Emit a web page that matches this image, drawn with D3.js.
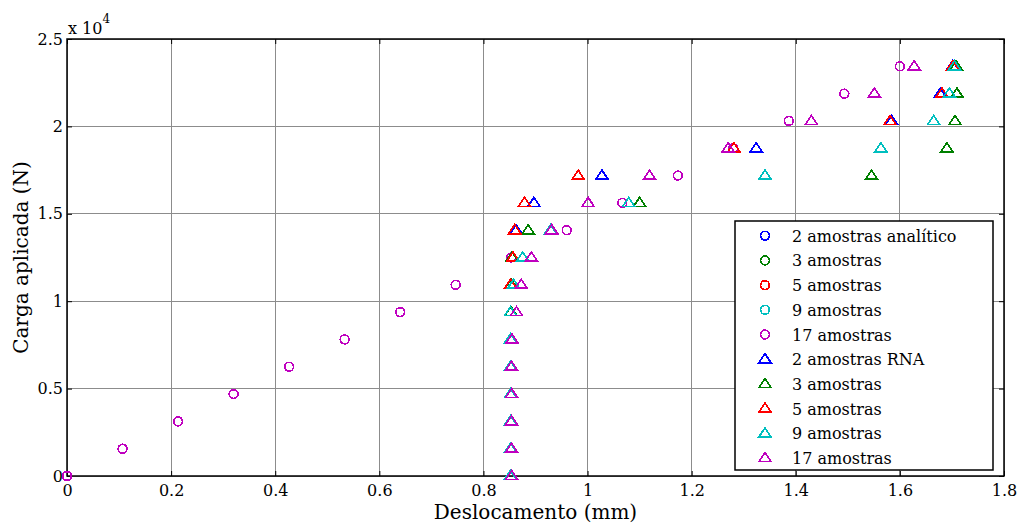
<!DOCTYPE html>
<html>
<head>
<meta charset="utf-8">
<script src="https://cdn.jsdelivr.net/npm/d3@7"></script>
<style>
  html, body { margin: 0; padding: 0; background: #fff; }
  svg { display: block; }
  text { font-family: "DejaVu Serif", "Liberation Serif", serif; fill: #000; }
</style>
</head>
<body>
<svg id="chart" width="1017" height="525"></svg>
<script>
// Load levels (N), one per loading step
const cargas = [0, 1562.5, 3125, 4687.5, 6250, 7812.5, 9375, 10937.5, 12500,
                14062.5, 15625, 17187.5, 18750, 20312.5, 21875, 23437.5];

// Analytical displacement (mm) at each load level
const deslocAnalitico = [0, 0.1067, 0.2133, 0.3200, 0.4267, 0.5333, 0.6400, 0.7467,
                         0.8533, 0.9600, 1.0667, 1.1733, 1.2800, 1.3867, 1.4933, 1.6000];

// Network (RNA) displacement predictions (mm) at each load level
const rna2  = [0.853, 0.853, 0.853, 0.853, 0.853, 0.853, 0.853, 0.853, 0.855,
               0.863, 0.897, 1.0275, 1.324, 1.584, 1.6775, 1.701];
const rna3  = [0.853, 0.853, 0.853, 0.853, 0.853, 0.853, 0.853, 0.853, 0.855,
               0.886, 1.100, 1.5455, 1.690, 1.706, 1.7096, 1.708];
const rna5  = [0.852, 0.852, 0.852, 0.852, 0.852, 0.852, 0.852, 0.852, 0.857,
               0.860, 0.879, 0.982, 1.281, 1.581, 1.681, 1.702];
const rna9  = [0.852, 0.852, 0.852, 0.852, 0.852, 0.852, 0.852, 0.858, 0.8756,
               0.929, 1.079, 1.341, 1.5635, 1.665, 1.695, 1.705];
const rna17 = [0.854, 0.854, 0.854, 0.854, 0.854, 0.855, 0.8635, 0.8725, 0.892,
               0.931, 1.001, 1.119, 1.270, 1.430, 1.551, 1.6275];

const xTicks = [0, 0.2, 0.4, 0.6, 0.8, 1, 1.2, 1.4, 1.6, 1.8];
const yTicks = [0, 5000, 10000, 15000, 20000, 25000];

const legendLabels = ["2 amostras analítico", "3 amostras", "5 amostras", "9 amostras", "17 amostras",
                      "2 amostras RNA", "3 amostras", "5 amostras", "9 amostras", "17 amostras"];
const colors = ["#0000ff", "#008000", "#ff0000", "#00bfbf", "#bf00bf"];

const series = [
  { label: legendLabels[0], shape: "circle",   color: colors[0], x: deslocAnalitico },
  { label: legendLabels[1], shape: "circle",   color: colors[1], x: deslocAnalitico },
  { label: legendLabels[2], shape: "circle",   color: colors[2], x: deslocAnalitico },
  { label: legendLabels[3], shape: "circle",   color: colors[3], x: deslocAnalitico },
  { label: legendLabels[4], shape: "circle",   color: colors[4], x: deslocAnalitico },
  { label: legendLabels[5], shape: "triangle", color: colors[0], x: rna2 },
  { label: legendLabels[6], shape: "triangle", color: colors[1], x: rna3 },
  { label: legendLabels[7], shape: "triangle", color: colors[2], x: rna5 },
  { label: legendLabels[8], shape: "triangle", color: colors[3], x: rna9 },
  { label: legendLabels[9], shape: "triangle", color: colors[4], x: rna17 }
];

const svg = d3.select("#chart");
const L = 67, R = 1004, T = 39, B = 476;
const W = R - L, H = B - T;

const x = d3.scaleLinear().domain([0, 1.8]).range([L, R]);
const y = d3.scaleLinear().domain([0, 25000]).range([B, T]);

// grid
const grid = svg.append("g");
grid.selectAll("line.gx").data(xTicks).join("line")
  .attr("x1", d => x(d)).attr("x2", d => x(d)).attr("y1", T).attr("y2", B)
  .attr("stroke", "#8c8c8c").attr("stroke-width", 1).attr("shape-rendering", "crispEdges");
grid.selectAll("line.gy").data(yTicks).join("line")
  .attr("y1", d => y(d)).attr("y2", d => y(d)).attr("x1", L).attr("x2", R)
  .attr("stroke", "#8c8c8c").attr("stroke-width", 1).attr("shape-rendering", "crispEdges");

// axes with inward ticks
const fmtX = d => String(+d.toFixed(1));
const fmtY = d => String(+(d / 1e4).toFixed(1));
const axisStyle = g => {
  g.select(".domain").remove();
  g.selectAll(".tick line").attr("stroke", "#000").attr("stroke-width", 1);
  g.selectAll(".tick text").style("font-family", "'DejaVu Serif', serif").style("font-size", "16px").attr("fill", "#000");
};
svg.append("g").attr("transform", `translate(0,${B})`)
  .call(d3.axisBottom(x).tickValues(xTicks).tickFormat(fmtX).tickSizeInner(-5).tickSizeOuter(0).tickPadding(9))
  .call(axisStyle);
svg.append("g").attr("transform", `translate(0,${T})`)
  .call(d3.axisTop(x).tickValues(xTicks).tickFormat("").tickSizeInner(-5).tickSizeOuter(0))
  .call(axisStyle);
svg.append("g").attr("transform", `translate(${L},0)`)
  .call(d3.axisLeft(y).tickValues(yTicks).tickFormat(fmtY).tickSizeInner(-5).tickSizeOuter(0).tickPadding(4))
  .call(axisStyle);
svg.append("g").attr("transform", `translate(${R},0)`)
  .call(d3.axisRight(y).tickValues(yTicks).tickFormat("").tickSizeInner(-5).tickSizeOuter(0))
  .call(axisStyle);

// plot box
svg.append("rect").attr("x", L).attr("y", T).attr("width", W).attr("height", H)
  .attr("fill", "none").attr("stroke", "#000").attr("stroke-width", 1.5);

// exponent label
const expo = svg.append("text").attr("x", 68).attr("y", 34).style("font-size", "16px");
expo.append("tspan").text("x 10");
expo.append("tspan").attr("dy", -11).style("font-size", "12px").text("4");

// axis titles
svg.append("text").attr("x", (L + R) / 2).attr("y", 519).attr("text-anchor", "middle")
  .style("font-size", "20px").text("Deslocamento (mm)");
svg.append("text").attr("transform", `translate(28,${(T + B) / 2}) rotate(-90)`)
  .attr("text-anchor", "middle").style("font-size", "20px").text("Carga aplicada (N)");

// marker drawing (aliased so stacked markers cover each other cleanly)
const triPath = "M0,-5.5L6,3.5L-6,3.5Z";
function drawMarker(g, shape, color) {
  if (shape === "circle") {
    g.append("circle").attr("r", 4.4).attr("fill", "none")
      .attr("stroke", color).attr("stroke-width", 1.7)
      .attr("shape-rendering", "crispEdges");
  } else {
    g.append("path").attr("d", triPath).attr("fill", "none")
      .attr("stroke", color).attr("stroke-width", 1.7).attr("stroke-linejoin", "miter")
      .attr("shape-rendering", "crispEdges");
  }
}

const marks = svg.append("g");
series.forEach(s => {
  const pts = s.x.map((v, i) => ({ dx: v, load: cargas[i] }));
  marks.append("g").selectAll("g").data(pts).join("g")
    .attr("transform", d => `translate(${x(d.dx)},${y(d.load)})`)
    .each(function () { drawMarker(d3.select(this), s.shape, s.color); });
});

// legend
const lg = svg.append("g");
lg.append("rect").attr("x", 735).attr("y", 221).attr("width", 258).attr("height", 249)
  .attr("fill", "#fff").attr("stroke", "#000").attr("stroke-width", 1.5);
series.forEach((s, i) => {
  const cy = 235.7 + i * 24.7;
  const m = lg.append("g").attr("transform", `translate(765,${cy})`);
  drawMarker(m, s.shape, s.color);
  lg.append("text").attr("x", 792).attr("y", cy + 6).style("font-size", "16px").text(s.label);
});
</script>
</body>
</html>
